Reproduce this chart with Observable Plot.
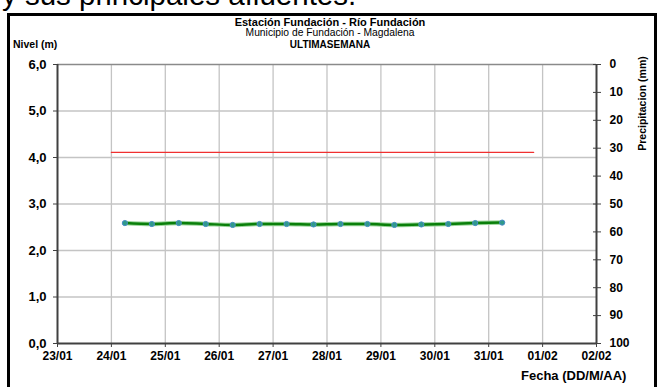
<!DOCTYPE html>
<html>
<head>
<meta charset="utf-8">
<script src="https://cdn.jsdelivr.net/npm/d3@7"></script>
<script src="https://cdn.jsdelivr.net/npm/@observablehq/plot@0.6"></script>
<style>
  html, body { margin: 0; padding: 0; background: #fff; overflow: hidden; }
  #wrap { position: relative; width: 660px; height: 387px; overflow: hidden; font-family: "Liberation Sans", Arial, sans-serif; }
  #frame { position: absolute; left: 7px; top: 13px; width: 650px; height: 420px; box-sizing: border-box; border: 3px solid #000; background: #fff; }
  #doc { position: absolute; left: 2px; top: -20px; font-size: 29.5px; line-height: 29px; color: #000; white-space: nowrap; }
  .t { position: absolute; white-space: nowrap; color: #000; line-height: 1; }
  #chart { position: absolute; left: 0; top: 0; }
</style>
</head>
<body>
<div id="wrap">
  <div id="frame"></div>
  <div id="chart"></div>
  <div id="doc">y sus principales afluentes.</div>
  <div class="t" id="t1" style="left:0;width:660px;text-align:center;top:17px;font-size:11px;font-weight:bold;">Estación Fundación - Río Fundación</div>
  <div class="t" id="t2" style="left:0;width:660px;text-align:center;top:28px;font-size:10.3px;">Municipio de Fundación - Magdalena</div>
  <div class="t" id="t3" style="left:0;width:660px;text-align:center;top:40px;font-size:10px;font-weight:bold;">ULTIMASEMANA</div>
  <div class="t" id="ylab" style="left:13px;top:39px;font-size:10.5px;font-weight:bold;">Nivel (m)</div>
  <div class="t" id="xlab" style="left:521px;top:369px;font-size:13px;font-weight:bold;">Fecha (DD/M/AA)</div>
</div>
<script>
// ---- data ----
const fechas = ["2024-01-24T06:00","2024-01-24T18:00","2024-01-25T06:00","2024-01-25T18:00","2024-01-26T06:00","2024-01-26T18:00","2024-01-27T06:00","2024-01-27T18:00","2024-01-28T06:00","2024-01-28T18:00","2024-01-29T06:00","2024-01-29T18:00","2024-01-30T06:00","2024-01-30T18:00","2024-01-31T06:00"];
const nivel = [2.59,2.57,2.59,2.57,2.55,2.57,2.57,2.56,2.57,2.57,2.55,2.56,2.57,2.59,2.60];
const alertaFechas = ["2024-01-24T00:00","2024-01-31T20:00"];
const alertaNivel = [4.11, 4.11];
const diasTicks = ["2024-01-23","2024-01-24","2024-01-25","2024-01-26","2024-01-27","2024-01-28","2024-01-29","2024-01-30","2024-01-31","2024-02-01","2024-02-02"];
const diasLabels = ["23/01","24/01","25/01","26/01","27/01","28/01","29/01","30/01","31/01","01/02","02/02"];
const nivelTicks = [0,1,2,3,4,5,6];
const precipTicks = [0,10,20,30,40,50,60,70,80,90,100];
const nivelMax = 6, precipMax = 100;

const utc = s => new Date(s + (s.length > 10 ? ":00Z" : "T00:00:00Z"));
const serie = fechas.map((f, i) => ({fecha: utc(f), nivel: nivel[i]}));
const alerta = alertaFechas.map((f, i) => ({fecha: utc(f), nivel: alertaNivel[i]}));
const ticksX = diasTicks.map(utc);
const x0 = ticksX[0], x1 = ticksX[ticksX.length - 1];
const labelOf = d => diasLabels[ticksX.findIndex(t => +t === +d)];
const precipToY = p => nivelMax - p / precipMax * nivelMax;
const precipY = precipTicks.map(precipToY);

const chart = Plot.plot({
  width: 660, height: 387,
  marginLeft: 57, marginRight: 64, marginTop: 64, marginBottom: 44,
  style: {fontFamily: "'Liberation Sans', Arial, sans-serif", fontSize: "12px", fontWeight: "bold", background: "transparent", color: "#000"},
  x: {type: "utc", domain: [x0, x1]},
  y: {domain: [0, nivelMax]},
  marks: [
    Plot.gridX(ticksX.slice(1, -1), {stroke: "#c4c4c4", strokeOpacity: 1, strokeWidth: 1.3}),
    Plot.gridY(nivelTicks.slice(1, -1), {stroke: "#c4c4c4", strokeOpacity: 1, strokeWidth: 1.3}),
    Plot.ruleY([nivelMax], {stroke: "#8a8a8a", strokeWidth: 1.3}),
    Plot.line(alerta, {x: "fecha", y: "nivel", stroke: "#f03030", strokeWidth: 1.3}),
    Plot.line(serie, {x: "fecha", y: "nivel", stroke: "#9bd49b", strokeWidth: 4.5, curve: "monotone-x"}),
    Plot.line(serie, {x: "fecha", y: "nivel", stroke: "#0a7f0a", strokeWidth: 2.5, curve: "monotone-x"}),
    Plot.dot(serie, {x: "fecha", y: "nivel", r: 2.6, fill: "#2f9a8a", stroke: "#4a8cc8", strokeWidth: 1}),
    Plot.ruleX([x0], {stroke: "#404040", strokeWidth: 2}),
    Plot.ruleX([x1], {stroke: "#404040", strokeWidth: 2}),
    Plot.ruleY([0], {stroke: "#404040", strokeWidth: 2}),
    Plot.axisY(nivelTicks, {anchor: "left", tickSize: 4, tickPadding: 7, stroke: "#404040", fontSize: 13, tickFormat: d => d.toFixed(1).replace(".", ","), label: null}),
    Plot.axisX(ticksX, {anchor: "bottom", tickSize: 4, tickPadding: 4, stroke: "#404040", tickFormat: labelOf, label: null}),
    Plot.axisY(precipY, {anchor: "right", tickSize: 8, dx: -4, stroke: "#404040", tickFormat: () => "", label: null}),
    Plot.axisY(precipY, {anchor: "right", tickSize: 0, tickPadding: 13, textAnchor: "start", tickFormat: d => String(Math.round((nivelMax - d) / nivelMax * precipMax)), label: null}),
    Plot.text(["Precipitacion (mm)"], {frameAnchor: "top-right", dx: 46, dy: 39, rotate: -90, text: d => d, fontSize: 10.5, fontWeight: "bold", textAnchor: "middle", lineAnchor: "middle"})
  ]
});
document.getElementById("chart").appendChild(chart);
</script>
</body>
</html>
